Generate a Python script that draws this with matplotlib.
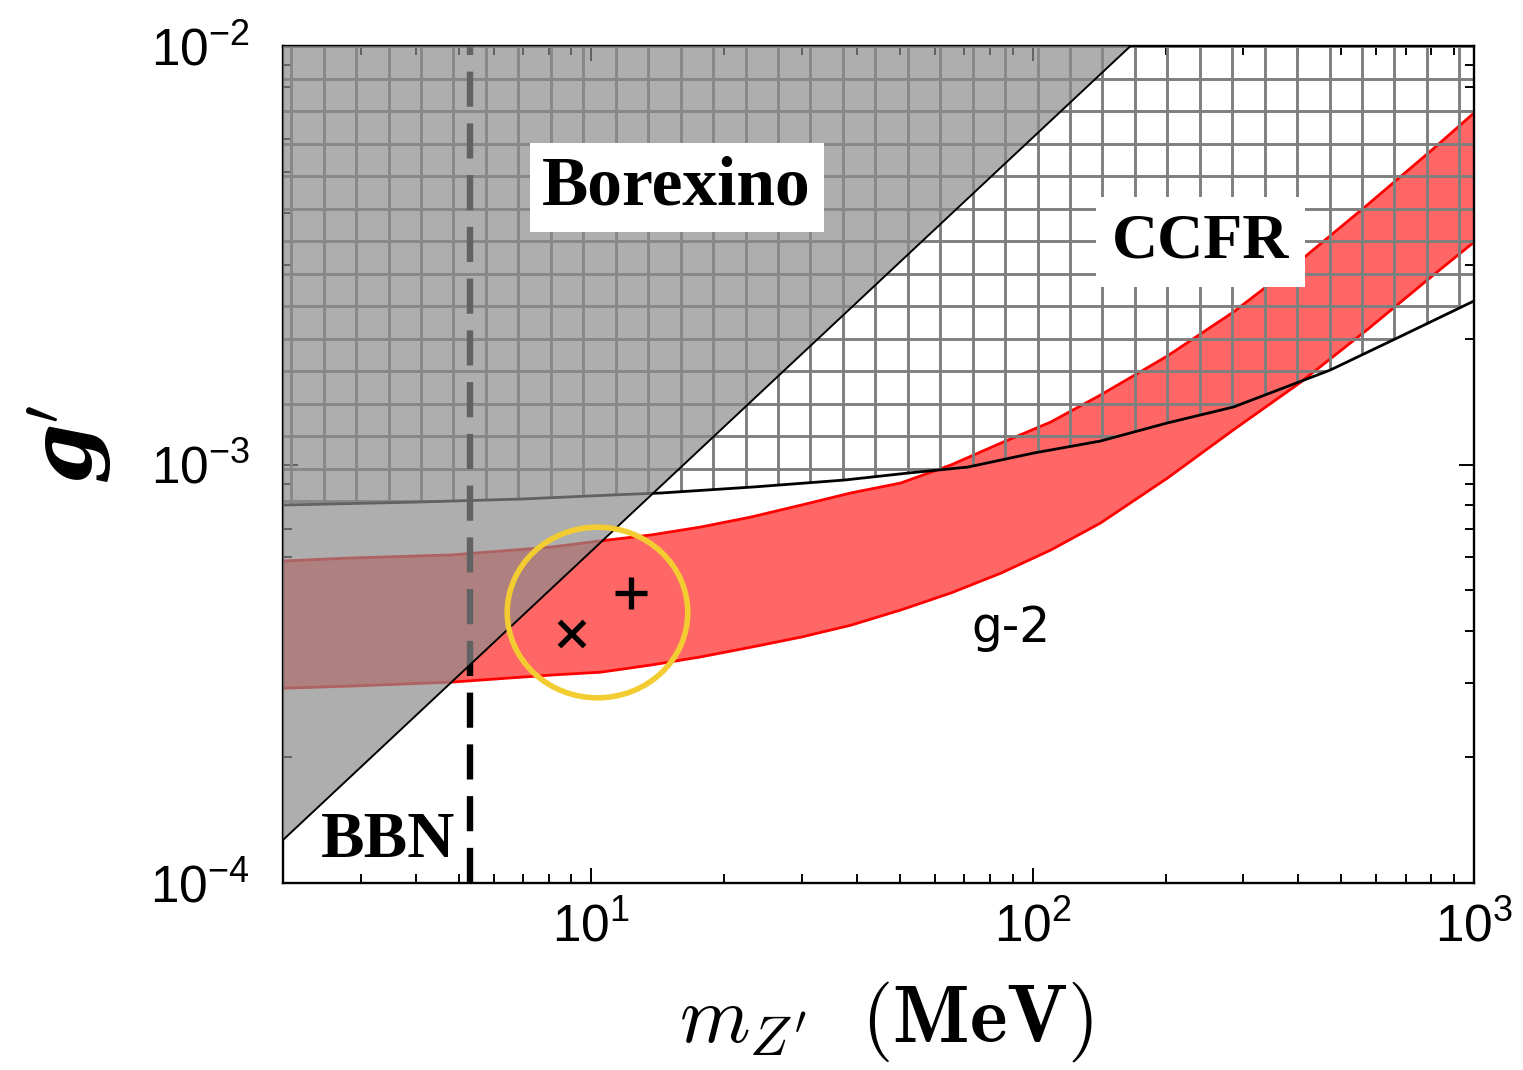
import numpy as np
import matplotlib
matplotlib.use('Agg')
import matplotlib.pyplot as plt
from matplotlib.patches import Polygon
from matplotlib.path import Path
from matplotlib.transforms import Affine2D
from matplotlib.collections import LineCollection

plt.rcParams['mathtext.fontset'] = 'custom'
plt.rcParams['mathtext.rm'] = 'Liberation Sans'
plt.rcParams['mathtext.it'] = 'Liberation Sans:italic'
plt.rcParams['mathtext.bf'] = 'Liberation Sans:bold'
plt.rcParams['mathtext.sf'] = 'Liberation Sans'
plt.rcParams['font.family'] = ['Liberation Sans', 'DejaVu Sans']

# ---------------- data ----------------
x_limits = [2.0, 1000.0]
y_limits = [1e-4, 1e-2]
x_ticks = [10, 100, 1000]
x_ticklabels = [r'$10^{1}$', r'$10^{2}$', r'$10^{3}$']
y_ticks = [1e-4, 1e-3, 1e-2]
y_ticklabels = [r'$10^{-4}$', r'$10^{-3}$', r'$10^{-2}$']

# g-2 favoured band
g2_m = [2.0, 2.86, 4.82, 8.12, 10.5, 13.7, 17.7, 23.0, 29.9, 38.7, 50.2, 65.2,
        84.7, 110, 142.5, 202, 285, 404, 573, 807, 1000]
g2_upper = [5.88e-4, 5.98e-4, 6.08e-4, 6.35e-4, 6.57e-4, 6.79e-4, 7.09e-4,
            7.49e-4, 8.00e-4, 8.55e-4, 9.03e-4, 9.97e-4, 1.125e-3, 1.264e-3,
            1.466e-3, 1.817e-3, 2.314e-3, 3.07e-3, 4.17e-3, 5.67e-3, 6.92e-3]
g2_lower = [2.92e-4, 2.955e-4, 3.02e-4, 3.14e-4, 3.19e-4, 3.32e-4, 3.47e-4,
            3.66e-4, 3.87e-4, 4.13e-4, 4.49e-4, 4.93e-4, 5.50e-4, 6.25e-4,
            7.25e-4, 9.28e-4, 1.21e-3, 1.57e-3, 2.10e-3, 2.83e-3, 3.40e-3]

# CCFR exclusion boundary
ccfr_m = [2.0, 3.98, 6.94, 11.27, 14.4, 23.4, 37.4, 52.2, 71.3, 100.5, 142.5,
          202, 285, 472, 670, 1000]
ccfr_g = [8.00e-4, 8.13e-4, 8.27e-4, 8.46e-4, 8.55e-4, 8.84e-4, 9.18e-4,
          9.54e-4, 9.86e-4, 1.065e-3, 1.138e-3, 1.257e-3, 1.372e-3, 1.681e-3,
          2.006e-3, 2.459e-3]

# Borexino exclusion boundary
borexino_m = [2.0, 166.6]
borexino_g = [1.267e-4, 1.0e-2]

# BBN bound
bbn_m = 5.3

# benchmark circle and points
circle_m, circle_g = 10.29, 4.43e-4
cross_m, cross_g = 9.01, 3.96e-4
plus_m, plus_g = 12.27, 4.94e-4

# ---------------- figure ----------------
fig = plt.figure(figsize=(15.23, 10.70), dpi=100)
ax = fig.add_axes([283 / 1523, 1 - 883 / 1070, (1474 - 283) / 1523, (883 - 46) / 1070])
ax.set_xscale('log')
ax.set_yscale('log')
ax.set_xlim(x_limits)
ax.set_ylim(y_limits)

# g-2 band
ax.fill_between(g2_m, g2_lower, g2_upper, facecolor='#FF6666', edgecolor='none', zorder=2)
ax.plot(g2_m, g2_upper, color='#FF0000', lw=2.0, zorder=2.1)
ax.plot(g2_m, g2_lower, color='#FF0000', lw=2.0, zorder=2.1)

# CCFR hatched (grid) region
ccfr_verts = list(zip(ccfr_m, ccfr_g)) + [(x_limits[1], 1.0), (x_limits[0], 1.0)]
ccfr_poly = Polygon(ccfr_verts, closed=True, transform=ax.transData,
                    facecolor='none', edgecolor='none')
ax.add_patch(ccfr_poly)
gx = 10 ** (0.3197 + 0.07353 * np.arange(37))
gy = 10 ** (-2 - 0.07766 * np.arange(27))
segs = [[(x, y_limits[0]), (x, y_limits[1])] for x in gx]
segs += [[(x_limits[0], y), (x_limits[1], y)] for y in gy]
grid = LineCollection(segs, colors='#7f7f7f', linewidths=2.1, zorder=2.2)
ax.add_collection(grid)
grid.set_clip_path(ccfr_poly)
ax.plot(ccfr_m, ccfr_g, color='black', lw=2.0, zorder=2.3)

# BBN dashed line
ax.axvline(bbn_m, color='black', lw=4.6, dashes=(5.5, 2.6), zorder=2.4)

# Borexino grey overlay
ax.fill_between(borexino_m, borexino_g, [y_limits[1]] * 2, facecolor=(0.55, 0.55, 0.55),
                alpha=0.7, edgecolor='none', zorder=3)
ax.plot(borexino_m, borexino_g, color='black', lw=1.4, zorder=3.5)

# benchmark circle and points
ell = Path.unit_circle().transformed(Affine2D().scale(1.0, 0.945))
ax.plot([circle_m], [circle_g], marker=ell, markersize=130, mfc='none',
        mec='#F2CC30', mew=4.0, ls='none', zorder=4)
ax.plot([plus_m], [plus_g], marker='+', markersize=23, mew=3.8, color='black', ls='none', zorder=5)
ax.plot([cross_m], [cross_g], marker='x', markersize=18, mew=3.8, color='black', ls='none', zorder=5)

# labels in the plot
serif = ['Liberation Serif', 'DejaVu Serif']
ax.text(15.6, 4.58e-3, 'Borexino', family=serif, fontweight='bold', fontsize=50,
        ha='center', va='center', zorder=6,
        bbox=dict(facecolor='white', edgecolor='none', boxstyle='square,pad=0.18'))
ax.text(239.9, 3.40e-3, 'CCFR', family=serif, fontweight='bold', fontsize=46,
        ha='center', va='center', zorder=6,
        bbox=dict(facecolor='white', edgecolor='none', boxstyle='square,pad=0.25'))
ax.text(3.46, 1.26e-4, 'BBN', family=serif, fontweight='bold', fontsize=47,
        ha='center', va='center', zorder=6)
ax.text(89.1, 4.07e-4, 'g-2', family=['DejaVu Sans'], fontsize=35,
        ha='center', va='center', zorder=6)

# ticks
ax.set_xticks(x_ticks)
ax.set_xticklabels(x_ticklabels)
ax.set_yticks(y_ticks)
ax.set_yticklabels(y_ticklabels)
ax.xaxis.set_minor_formatter(matplotlib.ticker.NullFormatter())
ax.yaxis.set_minor_formatter(matplotlib.ticker.NullFormatter())
ax.tick_params(which='both', direction='in', top=True, right=True, width=1.4,
               labelsize=37, color='black')
ax.tick_params(which='major', length=11)
ax.tick_params(which='minor', length=6.5)
ax.tick_params(axis='y', which='major', pad=24)
ax.tick_params(axis='x', which='major', pad=14)
for s in ax.spines.values():
    s.set_linewidth(1.7)

# axis labels
fig.text(886 / 1523, 1 - 1022 / 1070, r"$m_{Z'}\ \ \mathbf{(MeV)}$",
         math_fontfamily='cm', fontsize=58, ha='center', va='center')

ylab = r"$\mathbfit{g}'$"
ykw = dict(math_fontfamily='dejavuserif')
try:
    _tf = plt.figure()
    _tf.text(0.5, 0.5, ylab, fontsize=20, **ykw)
    _tf.canvas.draw()
    plt.close(_tf)
except Exception:
    plt.close('all')
    ylab = "g'"
    ykw = dict(family=['DejaVu Serif'], fontweight='bold', fontstyle='italic')
fig.text(70 / 1523, 1 - 445 / 1070, ylab, fontsize=62, rotation=90,
         ha='center', va='center', **ykw)

fig.savefig('out.png', dpi=100)
